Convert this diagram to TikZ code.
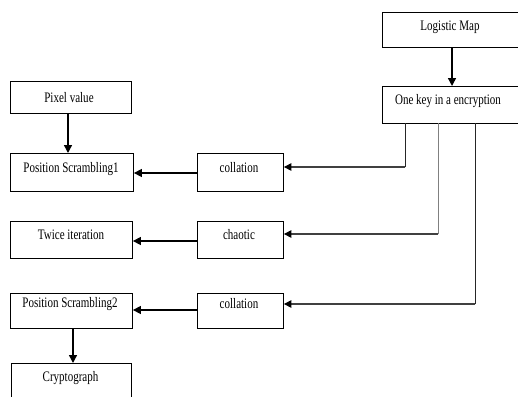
\documentclass[tikz,border=0pt]{standalone}
\usepackage{fontspec}
\setmainfont{Liberation Serif}
\usetikzlibrary{arrows.meta}
\tikzset{
  box/.style={draw=black, line width=0.9pt, inner sep=0pt, anchor=north west},
  txt/.style={inner sep=0pt, font=\fontsize{14.5}{16}\selectfont},
  arr/.style={line width=1.4pt, -{Triangle[length=8pt,width=8pt]}},
  feed/.style={line width=1.1pt, draw=black!75, -{Triangle[length=7.5pt,width=7.5pt,color=black]}},
  riser/.style={line width=0.9pt, draw=black!85},
}
\newcommand{\sq}[1]{\scalebox{0.76}[1]{#1}}
\begin{document}
\begin{tikzpicture}[x=1pt,y=-1pt]
\clip (0,0) rectangle (518,396);
\fill[white] (0,0) rectangle (518,396);
% boxes
\node[box, minimum width=135.5pt, minimum height=35pt] (lm) at (382,12) {};
\node[box, minimum width=135.5pt, minimum height=36.5pt] (key) at (382,86) {};
\node[box, minimum width=121pt, minimum height=32pt] (pix) at (10,81) {};
\node[box, minimum width=123pt, minimum height=38pt] (ps1) at (10,153) {};
\node[box, minimum width=86pt, minimum height=38pt] (col1) at (197,153) {};
\node[box, minimum width=122pt, minimum height=37pt] (twi) at (10,221) {};
\node[box, minimum width=86pt, minimum height=37pt] (cha) at (197,221) {};
\node[box, minimum width=122pt, minimum height=35pt] (ps2) at (10,293) {};
\node[box, minimum width=86pt, minimum height=35pt] (col2) at (197,293) {};
\node[box, minimum width=120pt, minimum height=45pt] (cry) at (11,363) {};
% texts
\node[txt] at (450,27) {\sq{Logistic Map}};
\node[txt] at (448,101) {\sq{One key in a encryption}};
\node[txt] at (69,98) {\sq{Pixel value}};
\node[txt] at (71,169) {\sq{Position Scrambling1}};
\node[txt] at (239,168) {\sq{collation}};
\node[txt] at (71,235) {\sq{Twice iteration}};
\node[txt] at (239,235) {\sq{chaotic}};
\node[txt] at (70,304) {\sq{Position Scrambling2}};
\node[txt] at (239,304) {\sq{collation}};
\node[txt] at (70.5,378) {\sq{Cryptograph}};
% connectors
\draw[arr] (lm.south -| 452,0) -- (key.north -| 452,0);
\draw[arr] (pix.south -| 68,0) -- (ps1.north -| 68,0);
\draw[arr] (ps2.south -| 73,0) -- (cry.north -| 73,0);
\draw[arr] (col1.west |- 0,173) -- (ps1.east |- 0,173);
\draw[arr] (cha.west |- 0,241) -- (twi.east |- 0,241);
\draw[arr] (col2.west |- 0,310) -- (ps2.east |- 0,310);
\coordinate (k1) at (405,167);
\coordinate (k2) at (438,234);
\coordinate (k3) at (475,304);
\draw[riser] (key.south -| k1) -- (k1);
\draw[riser, draw=black!50] (key.south -| k2) -- (k2);
\draw[riser] (key.south -| k3) -- (k3);
\draw[feed] ([xshift=0.45pt]k1) -- (col1.east |- k1);
\draw[feed] ([xshift=0.45pt]k2) -- (cha.east |- k2);
\draw[feed] ([xshift=0.45pt]k3) -- (col2.east |- k3);
\end{tikzpicture}
\end{document}
